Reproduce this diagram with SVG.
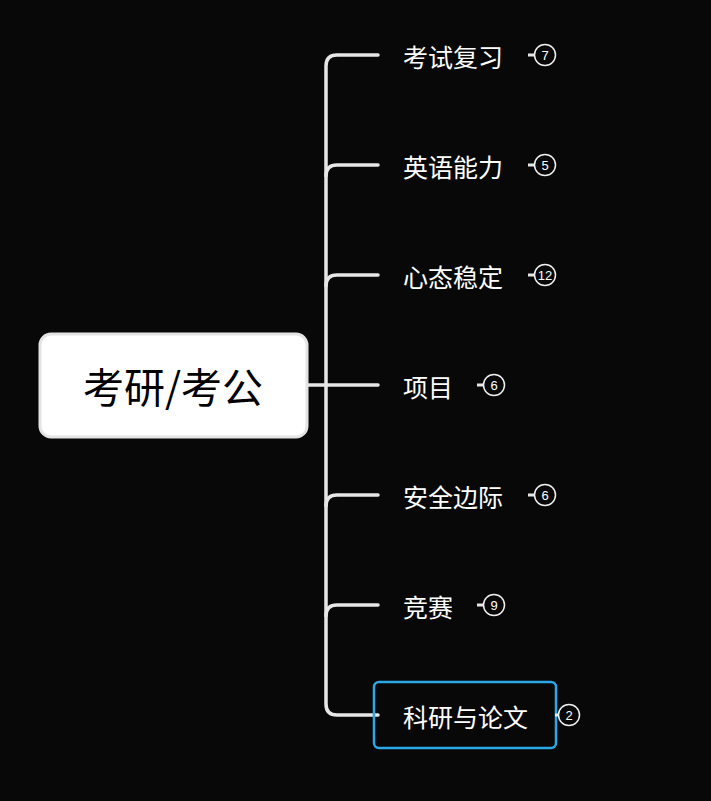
<svg xmlns="http://www.w3.org/2000/svg" width="711" height="801" viewBox="0 0 711 801">
<style>
.bg{fill:#080808}
.conn{fill:none;stroke:#e6e6e6;stroke-width:3.5;stroke-linecap:round}
.lbl{fill:#ffffff;font-family:"Noto Sans CJK SC","Noto Sans",sans-serif;font-size:25px;dominant-baseline:central}
.badge circle{fill:#080808;stroke:#f0f0f0;stroke-width:1.5}
.badge line{stroke:#e6e6e6;stroke-width:3}
.badge text{fill:#ffffff;font-family:"Liberation Sans",Arial,sans-serif;font-size:13px;text-anchor:middle;dominant-baseline:central}
</style>
<rect class="bg" x="0" y="0" width="711" height="801"/>
<g id="connectors">
<path class="conn" d="M307 385 H326"/>
<path class="conn" d="M378 55 H337 Q326 55 326 66 V704 Q326 715 337 715 H378"/>
<path class="conn" d="M326 176 Q326 165 337 165 H378"/>
<path class="conn" d="M326 286 Q326 275 337 275 H378"/>
<path class="conn" d="M326 385 H378"/>
<path class="conn" d="M326 506 Q326 495 337 495 H378"/>
<path class="conn" d="M326 616 Q326 605 337 605 H378"/>
</g>
<g id="root">
<rect x="40" y="334" width="267" height="103" rx="11" fill="#ffffff" stroke="#e4e4e4" stroke-width="3"/>
<text x="173" y="385" font-family="Noto Sans CJK SC,'Noto Sans',sans-serif" font-size="41" fill="#000000" text-anchor="middle" dominant-baseline="central">考研/考公</text>
</g>
<g id="n1">
<text class="lbl" x="403" y="56">考试复习</text>
<g class="badge"><line x1="528" y1="55" x2="534" y2="55"/><circle cx="545" cy="55" r="10.5"/><text x="545" y="55">7</text></g>
</g>
<g id="n2">
<text class="lbl" x="403" y="166">英语能力</text>
<g class="badge"><line x1="528" y1="165" x2="534" y2="165"/><circle cx="545" cy="165" r="10.5"/><text x="545" y="165">5</text></g>
</g>
<g id="n3">
<text class="lbl" x="403" y="276">心态稳定</text>
<g class="badge"><line x1="528" y1="275" x2="534" y2="275"/><circle cx="545" cy="275" r="10.5"/><text x="545" y="275">12</text></g>
</g>
<g id="n4">
<text class="lbl" x="403" y="386">项目</text>
<g class="badge"><line x1="477" y1="385" x2="483" y2="385"/><circle cx="494" cy="385" r="10.5"/><text x="494" y="385">6</text></g>
</g>
<g id="n5">
<text class="lbl" x="403" y="496">安全边际</text>
<g class="badge"><line x1="528" y1="495" x2="534" y2="495"/><circle cx="545" cy="495" r="10.5"/><text x="545" y="495">6</text></g>
</g>
<g id="n6">
<text class="lbl" x="403" y="606">竞赛</text>
<g class="badge"><line x1="477" y1="605" x2="483" y2="605"/><circle cx="494" cy="605" r="10.5"/><text x="494" y="605">9</text></g>
</g>
<g id="n7">
<rect x="374" y="682" width="182" height="66" rx="5" fill="none" stroke="#2aa9e6" stroke-width="2.5"/>
<text class="lbl" x="403" y="716">科研与论文</text>
<g class="badge"><line x1="555" y1="715" x2="558" y2="715"/><circle cx="569" cy="715" r="10.5"/><text x="569" y="715">2</text></g>
</g>
</svg>
